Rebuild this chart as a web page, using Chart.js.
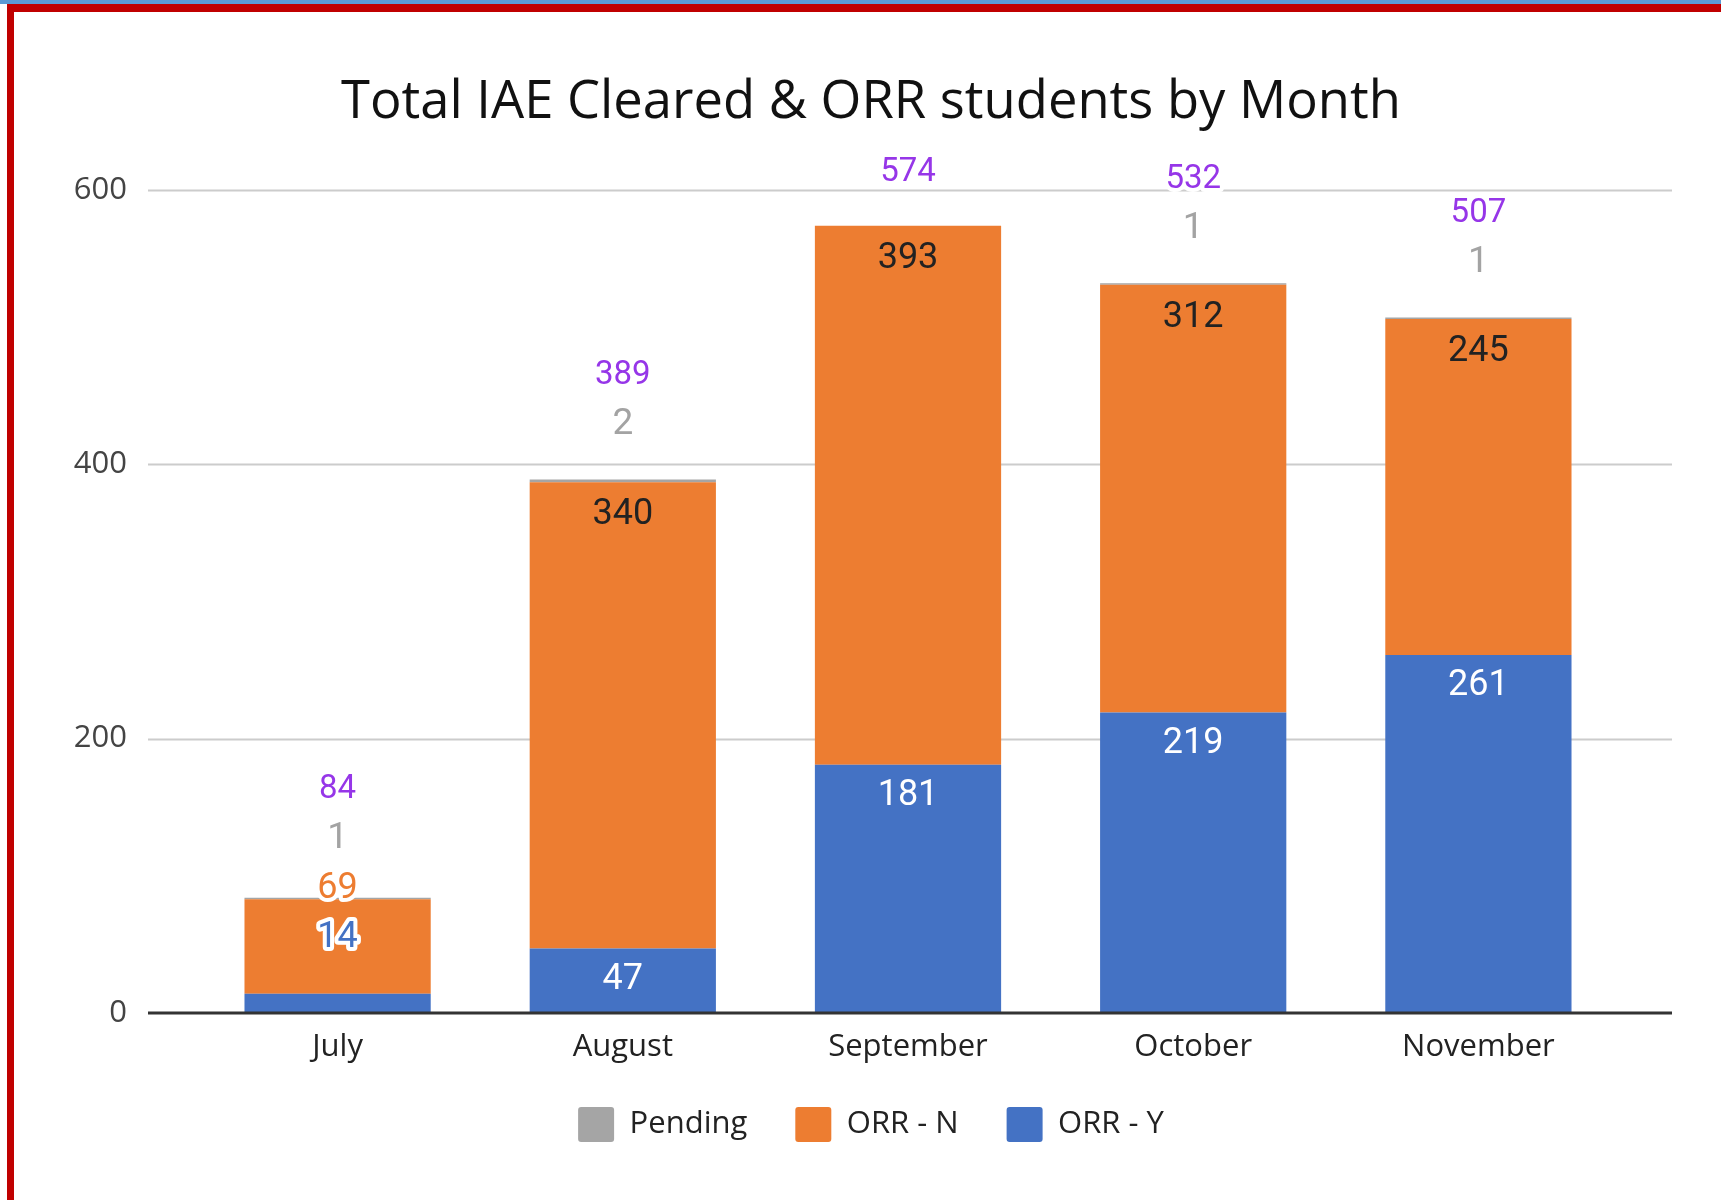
<!DOCTYPE html>
<html><head><meta charset="utf-8">
<script src="https://cdn.jsdelivr.net/npm/chart.js@4.4.0/dist/chart.umd.min.js"></script>
<style>
html,body{margin:0;padding:0;width:1721px;height:1200px;overflow:hidden;background:#fff;}
#topstrip{position:absolute;left:0;top:0;width:1721px;height:4px;background:#5b9bd5;}
#frame{position:absolute;left:7px;top:4px;width:1800px;height:1300px;border-left:7px solid #c00000;border-top:8px solid #c00000;}
#wrap{position:absolute;left:0;top:0;width:1721px;height:1200px;}
</style></head><body>
<div id="topstrip"></div><div id="frame"></div>
<div id="wrap"><canvas id="c" width="1721" height="1200"></canvas></div>
<script>
const months = ['July', 'August', 'September', 'October', 'November'];
const orrY = [14, 47, 181, 219, 261];
const orrN = [69, 340, 393, 312, 245];
const pending = [1, 2, 0, 1, 1];
const totals = [84, 389, 574, 532, 507];
const yTicks = [0, 200, 400, 600];
const chartTitle = 'Total IAE Cleared & ORR students by Month';

const COL_Y = '#4472c4', COL_N = '#ed7d31', COL_P = '#a5a5a5';
const axisFont = {family: "'Open Sans'", size: 31, weight: 'normal'};

// let axis tick labels draw outside their own box (no clipping)
if (Chart.Scale && Chart.Scale.prototype) {
  Chart.Scale.prototype._computeLabelArea = function () { return undefined; };
}

const gridPlugin = {
  id: 'gridExt',
  beforeDatasetsDraw(chart) {
    const {ctx, chartArea, scales: {y}} = chart;
    ctx.save();
    ctx.strokeStyle = '#cccccc';
    ctx.lineWidth = 2;
    yTicks.forEach(v => {
      if (v === 0) return;
      const py = Math.round(y.getPixelForValue(v)) + 0.5;
      ctx.beginPath();
      ctx.moveTo(chartArea.left - 47, py);
      ctx.lineTo(chartArea.right + 51, py);
      ctx.stroke();
    });
    ctx.restore();
  },
  afterDatasetsDraw(chart) {
    const {ctx, chartArea, scales: {y}} = chart;
    ctx.save();
    ctx.strokeStyle = '#333333';
    ctx.lineWidth = 3;
    const py = y.getPixelForValue(0);
    ctx.beginPath();
    ctx.moveTo(chartArea.left - 47, py);
    ctx.lineTo(chartArea.right + 51, py);
    ctx.stroke();
    ctx.restore();
  }
};

function drawText(ctx, txt, x, y, color, size, halo) {
  ctx.font = 'normal ' + size + 'px Roboto';
  ctx.textAlign = 'center';
  ctx.textBaseline = 'middle';
  if (halo) {
    ctx.strokeStyle = '#ffffff';
    ctx.lineWidth = 8;
    ctx.lineJoin = 'round';
    ctx.strokeText(txt, x, y);
  }
  ctx.fillStyle = color;
  ctx.fillText(txt, x, y);
}

const labelPlugin = {
  id: 'barLabels',
  afterDraw(chart) {
    const {ctx} = chart;
    const mY = chart.getDatasetMeta(0).data;
    const mN = chart.getDatasetMeta(1).data;
    const mP = chart.getDatasetMeta(2).data;
    ctx.save();
    months.forEach((m, i) => {
      const bY = mY[i], bN = mN[i], bP = mP[i];
      const hY = bY.base - bY.y;
      const hN = bN.base - bN.y;
      let extra = 0;
      // ORR - N
      if (hN > 110) {
        drawText(ctx, String(orrN[i]), bN.x, bN.y + 33, '#222222', 36, false);
      } else {
        drawText(ctx, String(orrN[i]), bN.x, bN.y - 10, COL_N, 36, true);
        extra = 4.5;
      }
      // ORR - Y
      if (hY > 50) {
        drawText(ctx, String(orrY[i]), bY.x, bY.y + 31, '#ffffff', 36, false);
      } else {
        drawText(ctx, String(orrY[i]), bY.x, bN.y + 39, COL_Y, 36, true);
      }
      // Pending and total
      const top = bP.y;
      if (pending[i] > 0) {
        drawText(ctx, String(pending[i]), bP.x, top - 54.5 - extra, '#a3a3a3', 37, true);
        drawText(ctx, String(totals[i]), bP.x, top - 103.5 - extra, '#9636e8', 33, true);
      } else {
        drawText(ctx, String(totals[i]), bP.x, top - 53 - extra, '#9636e8', 33, true);
      }
    });
    ctx.restore();
  }
};

new Chart(document.getElementById('c'), {
  type: 'bar',
  data: {
    labels: months,
    datasets: [
      {label: 'ORR - Y', data: orrY, backgroundColor: COL_Y, borderWidth: 0},
      {label: 'ORR - N', data: orrN, backgroundColor: COL_N, borderWidth: 0},
      {label: 'Pending', data: pending, backgroundColor: COL_P, borderWidth: 0}
    ]
  },
  options: {
    responsive: false,
    animation: false,
    devicePixelRatio: 1,
    datasets: {bar: {categoryPercentage: 1, barPercentage: 0.653}},
    layout: {padding: {left: 121, right: 100, top: 0, bottom: 48}},
    plugins: {
      title: {
        display: true,
        text: chartTitle,
        color: '#111111',
        font: {family: "'Open Sans'", size: 52.5, weight: 'normal'},
        padding: {top: 72, bottom: 55}
      },
      legend: {
        position: 'bottom',
        reverse: true,
        labels: {
          boxWidth: 36, boxHeight: 35,
          useBorderRadius: true, borderRadius: 3,
          font: axisFont, color: '#222222', padding: 48
        }
      },
      tooltip: {enabled: false}
    },
    scales: {
      x: {
        stacked: true,
        grid: {display: false, drawTicks: false},
        border: {display: false},
        ticks: {font: axisFont, color: '#222222', padding: 16},
        afterFit(s) { s.height = 46; }
      },
      y: {
        stacked: true,
        min: 0, max: 600,
        afterBuildTicks(s) { s.ticks = yTicks.map(v => ({value: v})); },
        grid: {display: false, drawTicks: false},
        border: {display: false},
        ticks: {font: axisFont, color: '#444444', padding: 68},
        afterFit(s) { s.width = 74; }
      }
    }
  },
  plugins: [gridPlugin, labelPlugin]
});
</script>
</body></html>
